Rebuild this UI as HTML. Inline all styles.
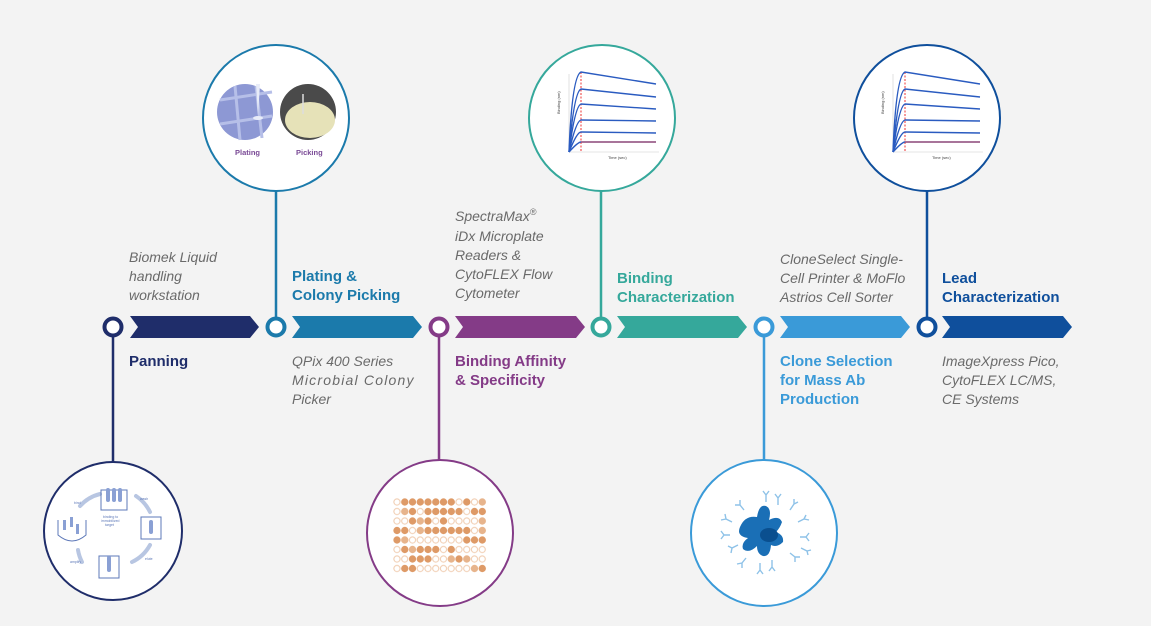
<!DOCTYPE html>
<html><head><meta charset="utf-8"><style>
html,body{margin:0;padding:0;background:#f3f3f3}
svg{display:block}
.it{font-family:"Liberation Sans",sans-serif;font-style:italic;font-size:14px;fill:#6a6a6a}
.b{font-family:"Liberation Sans",sans-serif;font-weight:bold;font-size:15px}
</style></head><body>
<svg width="1151" height="626" viewBox="0 0 1151 626" xmlns="http://www.w3.org/2000/svg">
<rect width="1151" height="626" fill="#f3f3f3"/>
<defs>
<g id="chart">
  <line x1="-35" y1="-40" x2="-35" y2="38" stroke="#ccc" stroke-width="0.6"/>
  <line x1="-35" y1="38" x2="55" y2="38" stroke="#ccc" stroke-width="0.6"/>
  <line x1="-23" y1="-42" x2="-23" y2="38" stroke="#e33" stroke-width="1" stroke-dasharray="2,1.5"/>
  <g fill="none" stroke="#2a5bc0" stroke-width="1.4">
    <path d="M-35 38 Q-32 -38 -23 -42 L52 -30"/>
    <path d="M-35 38 Q-30 -22 -23 -25 L52 -17"/>
    <path d="M-35 38 Q-29 -8 -23 -10 L52 -5"/>
    <path d="M-35 38 Q-28 7 -23 6 L52 7"/>
    <path d="M-35 38 Q-27 18 -23 18 L52 19"/>
    <path d="M-35 38 Q-26 28 -23 28 L52 28"/>
  </g>
  <line x1="-23" y1="28" x2="52" y2="28" stroke="#e33" stroke-width="0.8"/>
  <text x="-44" y="0" font-size="4" fill="#444" transform="rotate(-90 -44 0)" font-family="Liberation Sans">Binding (nm)</text>
  <text x="4" y="45" font-size="4" fill="#444" font-family="Liberation Sans">Time (sec)</text>
</g>
<pattern id="wp" patternUnits="userSpaceOnUse" x="393.1" y="497.25" width="7.75" height="9.5">
  <circle cx="3.875" cy="4.75" r="3.1" fill="#fff" stroke="#efc9ab" stroke-width="1"/>
</pattern>
</defs>

<g stroke-width="2.5">
<line x1="113" y1="336" x2="113" y2="462" stroke="#1f2d6a"/>
<line x1="276" y1="190" x2="276" y2="318" stroke="#1b7aab"/>
<line x1="439" y1="336" x2="439" y2="461" stroke="#843b87"/>
<line x1="601" y1="190" x2="601" y2="318" stroke="#35a89b"/>
<line x1="764" y1="336" x2="764" y2="461" stroke="#3a9ad8"/>
<line x1="927" y1="190" x2="927" y2="318" stroke="#0f4f9c"/>
</g>

<g fill="#fff" stroke-width="2">
<circle cx="113" cy="531" r="69" stroke="#1f2d6a"/>
<circle cx="276" cy="118" r="73" stroke="#1b7aab"/>
<circle cx="440" cy="533" r="73" stroke="#843b87"/>
<circle cx="602" cy="118" r="73" stroke="#35a89b"/>
<circle cx="764" cy="533" r="73" stroke="#3a9ad8"/>
<circle cx="927" cy="118" r="73" stroke="#0f4f9c"/>
</g>

<!-- panning illustration -->
<g fill="none" stroke="#b8c6e2" stroke-width="4" stroke-linecap="round">
<path d="M80 506 A40 40 0 0 1 100 494"/>
<path d="M136 496 A40 40 0 0 1 150 512"/>
<path d="M150 545 A40 40 0 0 1 132 562"/>
<path d="M82 562 A40 40 0 0 1 78 550"/>
</g>
<g fill="none" stroke="#5d78b8" stroke-width="1">
<rect x="101" y="490" width="26" height="20"/><rect x="141" y="517" width="20" height="22"/>
<rect x="99" y="556" width="20" height="22"/><path d="M58 520 v15 q14 12 28 0 v-15"/>
</g>
<g fill="#8aa0d4">
<rect x="106" y="488" width="4" height="14" rx="2"/><rect x="112" y="488" width="4" height="14" rx="2"/><rect x="118" y="488" width="4" height="14" rx="2"/>
<rect x="149" y="520" width="4" height="14" rx="2"/><rect x="107" y="556" width="4" height="16" rx="2"/>
<rect x="63" y="520" width="3" height="10"/><rect x="70" y="517" width="3" height="10"/><rect x="76" y="524" width="3" height="10"/>
</g>
<g font-family="Liberation Sans" font-size="3.5" fill="#5d78b8">
<text x="74" y="504">bind</text><text x="140" y="500">wash</text><text x="145" y="560">elute</text><text x="70" y="563">amplify</text><text x="103" y="518">binding to</text><text x="101" y="522">immobilized</text><text x="105" y="526">target</text>
</g>

<!-- plating/picking -->
<circle cx="245" cy="112" r="28" fill="#8d98d4"/>
<g stroke="#b6bfe8" stroke-width="3"><line x1="220" y1="100" x2="272" y2="92"/><line x1="220" y1="124" x2="272" y2="116"/><line x1="235" y1="86" x2="240" y2="140"/><line x1="256" y1="86" x2="262" y2="138"/></g>
<path d="M256 84 l2 32 l2 -32z" fill="#e8ecf8"/><ellipse cx="258" cy="118" rx="5" ry="2" fill="#e8ecf8"/>
<circle cx="308" cy="112" r="28" fill="#4a4a4a"/>
<ellipse cx="310" cy="120" rx="25" ry="18" fill="#e6e2b8"/>
<line x1="303" y1="94" x2="303" y2="114" stroke="#ddd" stroke-width="1.5"/>
<text x="235" y="155" font-family="Liberation Sans" font-weight="bold" font-size="7.5" fill="#7a4a96">Plating</text>
<text x="296" y="155" font-family="Liberation Sans" font-weight="bold" font-size="7.5" fill="#7a4a96">Picking</text>

<use href="#chart" x="604" y="114"/>
<use href="#chart" x="928" y="114"/>

<!-- wells -->
<rect x="393" y="497" width="93.1" height="76" fill="url(#wp)"/>
<g fill="#de9a67">
<circle cx="404.8" cy="502" r="3.6"/><circle cx="412.5" cy="502" r="3.6"/><circle cx="420.3" cy="502" r="3.6"/><circle cx="428" cy="502" r="3.6"/><circle cx="435.8" cy="502" r="3.6"/><circle cx="443.5" cy="502" r="3.6"/><circle cx="451.3" cy="502" r="3.6"/><circle cx="466.8" cy="502" r="3.6"/><circle cx="482.3" cy="502" r="3.6" fill="#e7b48c"/>
<circle cx="404.8" cy="511.5" r="3.6" fill="#e7b48c"/><circle cx="412.5" cy="511.5" r="3.6"/><circle cx="428" cy="511.5" r="3.6"/><circle cx="435.8" cy="511.5" r="3.6"/><circle cx="443.5" cy="511.5" r="3.6"/><circle cx="451.3" cy="511.5" r="3.6"/><circle cx="459" cy="511.5" r="3.6"/><circle cx="474.5" cy="511.5" r="3.6"/><circle cx="482.3" cy="511.5" r="3.6"/>
<circle cx="412.5" cy="521" r="3.6"/><circle cx="420.3" cy="521" r="3.6" fill="#e7b48c"/><circle cx="428" cy="521" r="3.6"/><circle cx="443.5" cy="521" r="3.6"/><circle cx="482.3" cy="521" r="3.6" fill="#e7b48c"/>
<circle cx="397" cy="530.5" r="3.6"/><circle cx="404.8" cy="530.5" r="3.6"/><circle cx="420.3" cy="530.5" r="3.6" fill="#e7b48c"/><circle cx="428" cy="530.5" r="3.6"/><circle cx="435.8" cy="530.5" r="3.6"/><circle cx="443.5" cy="530.5" r="3.6"/><circle cx="451.3" cy="530.5" r="3.6"/><circle cx="459" cy="530.5" r="3.6"/><circle cx="466.8" cy="530.5" r="3.6"/><circle cx="482.3" cy="530.5" r="3.6" fill="#e7b48c"/>
<circle cx="397" cy="540" r="3.6"/><circle cx="404.8" cy="540" r="3.6" fill="#e7b48c"/><circle cx="466.8" cy="540" r="3.6"/><circle cx="474.5" cy="540" r="3.6"/><circle cx="482.3" cy="540" r="3.6"/>
<circle cx="404.8" cy="549.5" r="3.6"/><circle cx="412.5" cy="549.5" r="3.6" fill="#e7b48c"/><circle cx="420.3" cy="549.5" r="3.6"/><circle cx="428" cy="549.5" r="3.6"/><circle cx="435.8" cy="549.5" r="3.6"/><circle cx="451.3" cy="549.5" r="3.6"/>
<circle cx="412.5" cy="559" r="3.6"/><circle cx="420.3" cy="559" r="3.6"/><circle cx="428" cy="559" r="3.6"/><circle cx="451.3" cy="559" r="3.6" fill="#e7b48c"/><circle cx="459" cy="559" r="3.6"/><circle cx="466.8" cy="559" r="3.6" fill="#e7b48c"/>
<circle cx="404.8" cy="568.5" r="3.6"/><circle cx="412.5" cy="568.5" r="3.6"/><circle cx="474.5" cy="568.5" r="3.6" fill="#e7b48c"/><circle cx="482.3" cy="568.5" r="3.6"/>
</g>

<!-- cell -->
<path d="M740 527 q5 -12 17 -10 q2 -13 9 -11 q6 3 3 14 q10 -5 13 2 q-2 6 -6 10 q8 3 7 10 q-6 6 -12 3 q-1 12 -8 11 q-6 -2 -6 -10 q-8 8 -14 3 q-2 -6 5 -11 q-12 -2 -8 -11z" fill="#1a6fb6"/>
<ellipse cx="769" cy="535" rx="9" ry="7" fill="#0a4f8f"/>
<g stroke="#8ec2e8" stroke-width="1.4" fill="none">
<path d="M766 502 v-7 m0 0 l-3 -4 m3 4 l3 -4"/><path d="M778 505 v-7 m0 0 l-3 -4 m3 4 l3 -4"/>
<path d="M790 510 l4 -6 m0 0 l0 -5 m0 5 l4 -2"/><path d="M798 522 l6 -3 m0 0 l2 -4 m-2 4 l5 1"/>
<path d="M800 537 l6 0 m0 0 l3 -4 m-3 4 l3 4"/><path d="M790 553 l5 4 m0 0 l0 5 m0 -5 l5 0"/>
<path d="M772 560 v7 m0 0 l-3 4 m3 -4 l3 4"/><path d="M760 563 v7 m0 0 l-3 4 m3 -4 l3 4"/>
<path d="M746 558 l-4 5 m0 0 l-5 1 m5 -1 l0 5"/><path d="M738 545 l-6 3 m0 0 l-4 -2 m4 2 l-1 5"/>
<path d="M730 535 l-6 0 m0 0 l-3 -4 m3 4 l-3 4"/><path d="M732 522 l-6 -3 m0 0 l-1 -5 m1 5 l-5 1"/>
<path d="M744 510 l-4 -5 m0 0 l0 -5 m0 5 l-5 0"/><path d="M801 548 l6 3 m0 0 l1 4 m-1 -4 l4 -1"/>
</g>

<g>
<path d="M130 316 H250 L259 327 L250 338 H130 L138 327Z" fill="#1f2d6a"/>
<path d="M292 316 H413 L422 327 L413 338 H292 L300 327Z" fill="#1b7aab"/>
<path d="M455 316 H576 L585 327 L576 338 H455 L463 327Z" fill="#843b87"/>
<path d="M617 316 H738 L747 327 L738 338 H617 L625 327Z" fill="#35a89b"/>
<path d="M780 316 H901 L910 327 L901 338 H780 L788 327Z" fill="#3a9ad8"/>
<path d="M942 316 H1063 L1072 327 L1063 338 H942 L950 327Z" fill="#0f4f9c"/>
</g>
<g fill="#fff" stroke-width="4">
<circle cx="113" cy="327" r="8.5" stroke="#1f2d6a"/>
<circle cx="276" cy="327" r="8.5" stroke="#1b7aab"/>
<circle cx="439" cy="327" r="8.5" stroke="#843b87"/>
<circle cx="601" cy="327" r="8.5" stroke="#35a89b"/>
<circle cx="764" cy="327" r="8.5" stroke="#3a9ad8"/>
<circle cx="927" cy="327" r="8.5" stroke="#0f4f9c"/>
</g>

<g class="it">
<text x="129" y="262">Biomek Liquid</text><text x="129" y="281">handling</text><text x="129" y="300">workstation</text>
<text x="455" y="221">SpectraMax<tspan font-size="9" dy="-6">®</tspan></text><text x="455" y="241">iDx Microplate</text><text x="455" y="260">Readers &amp;</text><text x="455" y="279">CytoFLEX Flow</text><text x="455" y="298">Cytometer</text>
<text x="780" y="264">CloneSelect Single-</text><text x="780" y="283">Cell Printer &amp; MoFlo</text><text x="780" y="302">Astrios Cell Sorter</text>
<text x="292" y="366">QPix 400 Series</text><text x="292" y="385" letter-spacing="1.2">Microbial Colony</text><text x="292" y="404">Picker</text>
<text x="942" y="366">ImageXpress Pico,</text><text x="942" y="385">CytoFLEX LC/MS,</text><text x="942" y="404">CE Systems</text>
</g>
<g class="b">
<text x="292" y="281" fill="#1b7aab">Plating &amp;</text><text x="292" y="300" fill="#1b7aab">Colony Picking</text>
<text x="617" y="283" fill="#35a89b">Binding</text><text x="617" y="302" fill="#35a89b">Characterization</text>
<text x="942" y="283" fill="#0f4f9c">Lead</text><text x="942" y="302" fill="#0f4f9c">Characterization</text>
<text x="129" y="366" fill="#1f2d6a">Panning</text>
<text x="455" y="366" fill="#843b87">Binding Affinity</text><text x="455" y="385" fill="#843b87">&amp; Specificity</text>
<text x="780" y="366" fill="#3a9ad8">Clone Selection</text><text x="780" y="385" fill="#3a9ad8">for Mass Ab</text><text x="780" y="404" fill="#3a9ad8">Production</text>
</g>
</svg>
</body></html>
